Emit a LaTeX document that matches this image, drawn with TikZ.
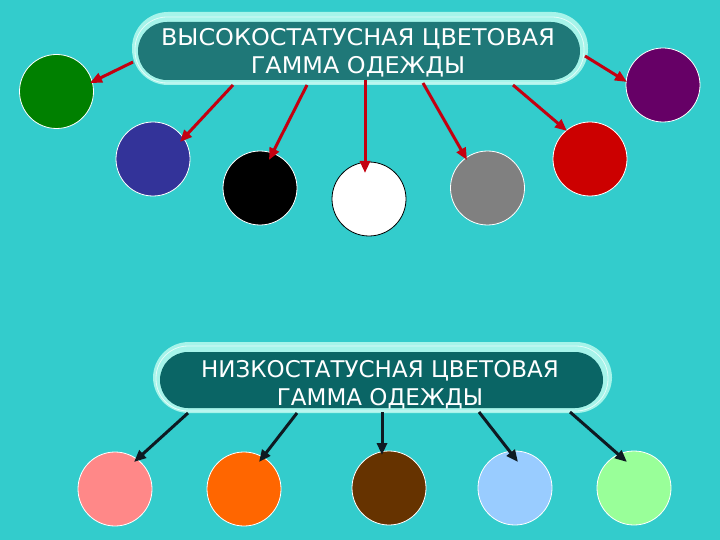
\documentclass[tikz,border=0pt]{standalone}
\usepackage{fontspec}
\setmainfont{DejaVu Sans}
\usetikzlibrary{arrows.meta}
\definecolor{bg}{HTML}{33CCCC}
\definecolor{rim}{HTML}{A6F4EA}
\definecolor{topbox}{HTML}{1F7878}
\definecolor{botbox}{HTML}{0A6565}
\definecolor{redarr}{HTML}{C40010}
\definecolor{blkarr}{HTML}{0E1A22}
\tikzset{
  colorball/.style={circle, minimum size=74pt, inner sep=0pt, draw=white, line width=0.8pt},
  headline/.style={text=white, align=center, font=\fontsize{23}{28.5}\selectfont, inner sep=0pt},
  redlink/.style={draw=redarr, line width=3pt, -{Triangle[length=12pt,width=10pt]}},
  blacklink/.style={draw=blkarr, line width=3pt, -{Triangle[length=12pt,width=10pt]}},
}
\begin{document}
\begin{tikzpicture}[x=1pt,y=-1pt]
\useasboundingbox (0,0) rectangle (720,540);
\fill[bg] (0,0) rectangle (720,540);
% top box
\fill[rim, rounded corners=36pt] (132,12) rectangle (588,85);
\draw[white!70!rim, line width=0.8pt, rounded corners=32pt] (135,17) rectangle (584,83);
\fill[topbox, rounded corners=29pt] (138,22) rectangle (580,80);
\node[headline] (hi) at (358,53) {\scalebox{1.04}[1]{ВЫСОКОСТАТУСНАЯ ЦВЕТОВАЯ}\\\scalebox{1.04}[1]{ГАММА ОДЕЖДЫ}};
% bottom box
\fill[rim, rounded corners=36pt] (153,342) rectangle (612,413);
\draw[white!70!rim, line width=0.8pt, rounded corners=32pt] (156,346) rectangle (608,411);
\fill[botbox, rounded corners=28pt] (160,352) rectangle (603,408);
\node[headline] (lo) at (380,385) {НИЗКОСТАТУСНАЯ ЦВЕТОВАЯ\\ГАММА ОДЕЖДЫ};
% top circles
\node[colorball, fill={rgb,255:red,0;green,128;blue,0}] (green) at (56.5,91.5) {};
\node[colorball, fill={rgb,255:red,51;green,51;blue,153}] (blue) at (153,159) {};
\node[colorball, fill=black] (black) at (260,188) {};
\node[colorball, fill=white, draw=black] (white) at (369,199) {};
\node[colorball, fill={rgb,255:red,128;green,128;blue,128}] (gray) at (487.5,188) {};
\node[colorball, fill={rgb,255:red,204;green,0;blue,0}] (red) at (590,159) {};
\node[colorball, fill={rgb,255:red,102;green,0;blue,102}] (purple) at (663,85) {};
% bottom circles
\node[colorball, fill={rgb,255:red,255;green,136;blue,136}] (pink) at (115,489) {};
\node[colorball, fill={rgb,255:red,255;green,102;blue,0}] (orange) at (244,489) {};
\node[colorball, fill={rgb,255:red,102;green,51;blue,0}] (brown) at (389,488) {};
\node[colorball, fill={rgb,255:red,153;green,204;blue,255}] (lblue) at (515,488) {};
\node[colorball, fill={rgb,255:red,153;green,255;blue,153}] (lgreen) at (634,488) {};
% connector anchors
\coordinate (s1) at (133,62);
\coordinate (s2) at (233,85);
\coordinate (s3) at (307,85);
\coordinate (s4) at (365,80);
\coordinate (s5) at (423,83);
\coordinate (s6) at (513,85);
\coordinate (s7) at (585,56);
\coordinate (e1) at (90,83);
\coordinate (e2) at (180,142);
\coordinate (e3) at (269,160);
\coordinate (e4) at (365,173);
\coordinate (e5) at (467,160);
\coordinate (e6) at (567,131);
\coordinate (e7) at (627,82);
\draw[redlink] (s1) -- (e1);
\draw[redlink] (s2) -- (e2);
\draw[redlink] (s3) -- (e3);
\draw[redlink] (s4) -- (e4);
\draw[redlink] (s5) -- (e5);
\draw[redlink] (s6) -- (e6);
\draw[redlink] (s7) -- (e7);
\coordinate (b1) at (188,413);
\coordinate (b2) at (297,413);
\coordinate (b3) at (382,412);
\coordinate (b4) at (479,412);
\coordinate (b5) at (570,412);
\coordinate (f1) at (134,462);
\coordinate (f2) at (259,462);
\coordinate (f3) at (382,455);
\coordinate (f4) at (518,462);
\coordinate (f5) at (627,462);
\draw[blacklink] (b1) -- (f1);
\draw[blacklink] (b2) -- (f2);
\draw[blacklink] (b3) -- (f3);
\draw[blacklink] (b4) -- (f4);
\draw[blacklink] (b5) -- (f5);
\end{tikzpicture}
\end{document}
